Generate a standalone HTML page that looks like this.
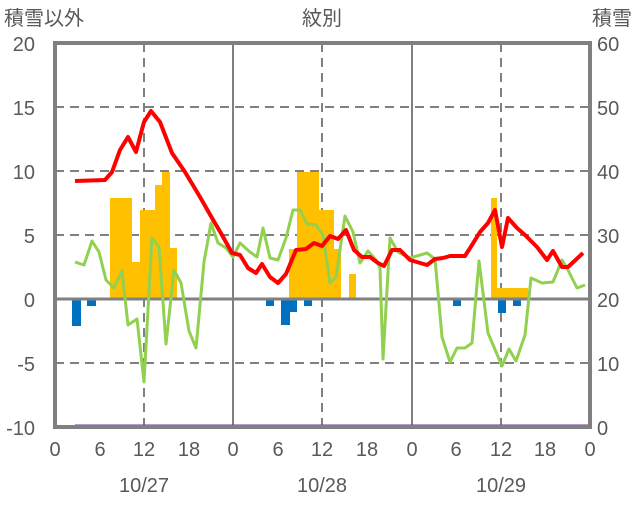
<!DOCTYPE html>
<html><head><meta charset="utf-8"><style>
html,body{margin:0;padding:0;background:#fff;}
text{font-family:"Liberation Sans","Noto Sans CJK JP",sans-serif;fill:#595959;}
</style></head><body>
<svg width="636" height="501" viewBox="0 0 636 501" xmlns="http://www.w3.org/2000/svg">
<rect width="636" height="501" fill="#fff"/>
<g stroke="#808080" stroke-width="2" stroke-dasharray="9,6">
<line x1="55" y1="107" x2="590" y2="107"/>
<line x1="55" y1="171" x2="590" y2="171"/>
<line x1="55" y1="235" x2="590" y2="235"/>
<line x1="55" y1="363" x2="590" y2="363"/>
<line x1="144" y1="43" x2="144" y2="427"/>
<line x1="322" y1="43" x2="322" y2="427"/>
<line x1="501" y1="43" x2="501" y2="427"/>
</g>
<g stroke="#808080" stroke-width="2">
<line x1="233" y1="43" x2="233" y2="427"/>
<line x1="412" y1="43" x2="412" y2="427"/>
</g>
<g fill="#ffc000">
<rect x="110" y="198" width="22" height="101"/>
<rect x="132" y="262" width="8" height="37"/>
<rect x="140" y="210" width="15" height="89"/>
<rect x="155" y="185" width="7" height="114"/>
<rect x="162" y="172" width="8" height="127"/>
<rect x="170" y="248" width="7" height="51"/>
<rect x="289" y="249" width="8" height="50"/>
<rect x="297" y="172" width="22" height="127"/>
<rect x="319" y="210" width="15" height="89"/>
<rect x="334" y="249" width="7" height="50"/>
<rect x="349" y="274" width="7" height="25"/>
<rect x="491" y="198" width="6" height="101"/>
<rect x="497" y="288" width="31" height="11"/>
</g>
<g fill="#0070c0">
<rect x="72" y="299" width="9" height="27"/>
<rect x="87" y="299" width="9" height="7"/>
<rect x="266" y="299" width="8" height="7"/>
<rect x="281" y="299" width="9" height="26"/>
<rect x="290" y="299" width="7" height="13"/>
<rect x="304" y="299" width="8" height="7"/>
<rect x="453" y="299" width="8" height="7"/>
<rect x="498" y="299" width="8" height="14"/>
<rect x="513" y="299" width="8" height="7"/>
</g>
<line x1="55" y1="299" x2="590" y2="299" stroke="#808080" stroke-width="3"/>
<polyline fill="none" stroke="#92d050" stroke-width="3" stroke-linejoin="round" points="75,262 84,265 92,241 99,252 106,280 114,288 122,271 128,325 137,319 144,382 152,238 159,247 166,344 174,270 181,283 189,331 196,348 204,262 211,223 218,243 226,248 233,257 240,243 250,252 257,257 263,228 270,258 278,260 286,238 293,210 300,210 307,224 316,225 323,235 330,283 336,277 345,216 353,232 360,263 368,251 376,260 380,268 383,359 390,238 398,252 410,258 427,253 435,259 442,337 450,362 457,348 465,348 472,343 479,261 488,333 502,366 509,349 516,361 525,335 531,278 542,283 553,282 562,260 568,270 577,288 585,285"/>
<polyline fill="none" stroke="#ff0000" stroke-width="4" stroke-linejoin="round" points="75,181 105,180 112,172 120,150 128,137 136,152 144,122 151,111 160,122 172,153 185,172 200,197 212,218 222,235 232,253 240,255 248,268 256,273 262,264 270,277 278,283 286,274 296,250 306,249 314,243 322,246 330,236 338,239 346,230 354,250 362,257 370,257 378,263 384,266 392,250 400,250 410,260 427,265 435,259 443,258 450,256 465,256 472,245 480,232 488,223 495,210 502,247 508,218 517,228 525,235 537,247 547,260 553,251 562,267 568,267 583,253"/>
<line x1="75" y1="426" x2="590" y2="426" stroke="#7030a0" stroke-width="3"/>
<rect x="55" y="43" width="535" height="384" fill="none" stroke="#808080" stroke-width="4"/>
<g font-size="20" text-anchor="end">
<text x="35" y="51">20</text><text x="35" y="115">15</text><text x="35" y="179">10</text>
<text x="35" y="243">5</text><text x="35" y="307">0</text><text x="35" y="371">-5</text><text x="35" y="435">-10</text>
</g>
<g font-size="20" text-anchor="start">
<text x="597" y="51">60</text><text x="597" y="115">50</text><text x="597" y="179">40</text>
<text x="597" y="243">30</text><text x="597" y="307">20</text><text x="597" y="371">10</text><text x="597" y="435">0</text>
</g>
<g font-size="20" text-anchor="middle">
<text x="55" y="456">0</text><text x="100" y="456">6</text><text x="144" y="456">12</text><text x="189" y="456">18</text>
<text x="233" y="456">0</text><text x="278" y="456">6</text><text x="322" y="456">12</text><text x="367" y="456">18</text>
<text x="412" y="456">0</text><text x="456" y="456">6</text><text x="501" y="456">12</text><text x="545" y="456">18</text>
<text x="590" y="456">0</text>
<text x="144" y="492">10/27</text><text x="322" y="492">10/28</text><text x="501" y="492">10/29</text>
<text x="322" y="25">紋別</text>
</g>
<text x="4" y="25" font-size="20">積雪以外</text>
<text x="632" y="25" font-size="20" text-anchor="end">積雪</text>
</svg>
</body></html>
